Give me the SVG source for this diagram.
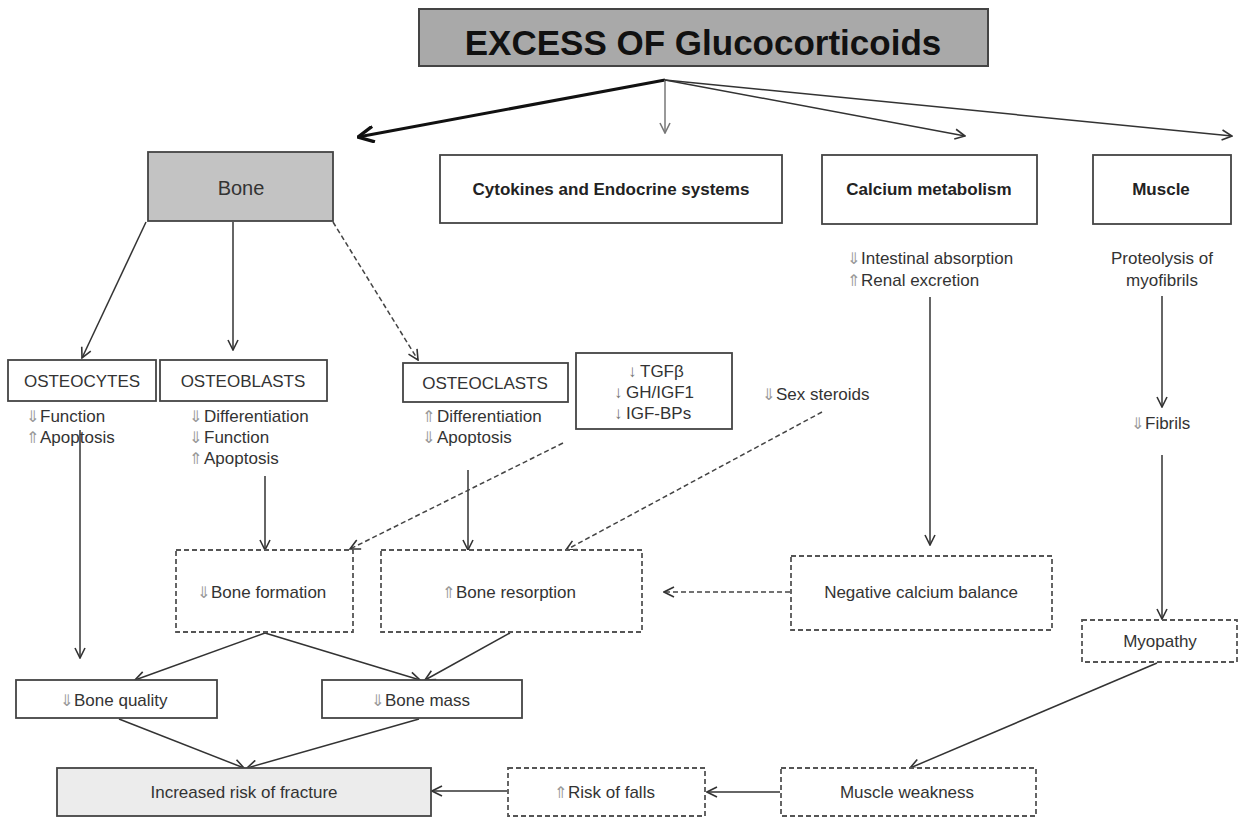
<svg xmlns="http://www.w3.org/2000/svg" width="1239" height="818" viewBox="0 0 1239 818">
<defs>
<marker id="arr" viewBox="0 0 12 12" refX="11" refY="6" markerWidth="12" markerHeight="12" markerUnits="userSpaceOnUse" orient="auto">
<path d="M1,1 L11,6 L1,11" fill="none" stroke="#333" stroke-width="1.6"/>
</marker>
<marker id="arrg" viewBox="0 0 12 12" refX="11" refY="6" markerWidth="12" markerHeight="12" markerUnits="userSpaceOnUse" orient="auto">
<path d="M1,1 L11,6 L1,11" fill="none" stroke="#777" stroke-width="1.6"/>
</marker>
<marker id="arrb" viewBox="0 0 16 16" refX="15" refY="8" markerWidth="18" markerHeight="18" markerUnits="userSpaceOnUse" orient="auto">
<path d="M1,1 L15,8 L1,15" fill="none" stroke="#111" stroke-width="3"/>
</marker>
</defs>
<style>
text{font-family:"Liberation Sans",Arial,sans-serif;fill:#333;font-size:17px}
.b{font-weight:bold;fill:#222}
.c{text-anchor:middle}
.s{fill:#999;font-family:"DejaVu Sans",sans-serif;font-size:16px}
.box{fill:#fff;stroke:#444;stroke-width:1.8}
.dbox{fill:#fff;stroke:#555;stroke-width:1.8;stroke-dasharray:5,3}
.ln{fill:none;stroke:#333;stroke-width:1.5;marker-end:url(#arr)}
.dl{fill:none;stroke:#444;stroke-width:1.5;stroke-dasharray:5,3;marker-end:url(#arr)}
</style>
<rect width="1239" height="818" fill="#fff"/>

<g id="connectors">
<line x1="665" y1="80" x2="358" y2="137" stroke="#111" stroke-width="3" marker-end="url(#arrb)"/>
<line x1="665" y1="80" x2="665" y2="133" stroke="#777" stroke-width="1.5" marker-end="url(#arrg)"/>
<line class="ln" x1="665" y1="80" x2="965" y2="136"/>
<line class="ln" x1="665" y1="80" x2="1232" y2="136"/>
<line class="ln" x1="146" y1="222" x2="82" y2="358"/>
<line class="ln" x1="233" y1="222" x2="233" y2="350"/>
<line class="dl" x1="333" y1="222" x2="418" y2="360"/>
<line class="ln" x1="80" y1="430" x2="80" y2="658"/>
<line class="ln" x1="265" y1="476" x2="265" y2="550"/>
<line class="ln" x1="468" y1="470" x2="468" y2="550"/>
<line class="dl" x1="563" y1="443" x2="350" y2="549"/>
<line class="dl" x1="822" y1="412" x2="566" y2="550"/>
<line class="ln" x1="930" y1="297" x2="930" y2="545"/>
<line class="dl" x1="790" y1="592" x2="664" y2="592"/>
<line class="ln" x1="1162" y1="296" x2="1162" y2="407"/>
<line class="ln" x1="1162" y1="455" x2="1162" y2="619"/>
<line class="ln" x1="265" y1="633" x2="135" y2="680"/>
<line class="ln" x1="265" y1="633" x2="420" y2="680"/>
<line class="ln" x1="510" y1="633" x2="425" y2="680"/>
<line class="ln" x1="119" y1="719" x2="244" y2="768"/>
<line class="ln" x1="419" y1="719" x2="247" y2="768"/>
<line class="ln" x1="507" y1="791" x2="432" y2="791"/>
<line class="ln" x1="780" y1="792" x2="707" y2="792"/>
<line class="ln" x1="1157" y1="663" x2="910" y2="768"/>
</g>

<g id="excess">
<rect x="419" y="9" width="569" height="57" fill="#a9a9a9" stroke="#444" stroke-width="2"/>
<text x="703" y="55" class="b c" style="font-size:35px;fill:#111">EXCESS OF Glucocorticoids</text>
</g>

<g id="bone">
<rect x="148" y="152" width="185" height="69" fill="#c3c3c3" stroke="#444" stroke-width="1.8"/>
<text x="241" y="195" class="c" style="font-size:20px">Bone</text>
</g>

<g id="cytokines">
<rect class="box" x="440" y="155" width="342" height="68"/>
<text x="611" y="195" class="b c">Cytokines and Endocrine systems</text>
</g>

<g id="calcium">
<rect class="box" x="822" y="155" width="215" height="69"/>
<text x="929" y="195" class="b c">Calcium metabolism</text>
</g>

<g id="muscle">
<rect class="box" x="1093" y="155" width="138" height="69"/>
<text x="1161" y="195" class="b c">Muscle</text>
</g>

<g id="osteocytes">
<rect class="box" x="8" y="360" width="148" height="41"/>
<text x="82" y="387" class="c">OSTEOCYTES</text>
<text x="26" y="422"><tspan class="s">⇓</tspan><tspan x="40">Function</tspan></text>
<text x="26" y="443"><tspan class="s">⇑</tspan><tspan x="40">Apoptosis</tspan></text>
</g>

<g id="osteoblasts">
<rect class="box" x="160" y="360" width="167" height="41"/>
<text x="243" y="387" class="c">OSTEOBLASTS</text>
<text x="189" y="422"><tspan class="s">⇓</tspan><tspan x="204">Differentiation</tspan></text>
<text x="189" y="443"><tspan class="s">⇓</tspan><tspan x="204">Function</tspan></text>
<text x="189" y="464"><tspan class="s">⇑</tspan><tspan x="204">Apoptosis</tspan></text>
</g>

<g id="osteoclasts">
<rect class="box" x="403" y="363" width="165" height="39"/>
<text x="485" y="389" class="c">OSTEOCLASTS</text>
<text x="422" y="422"><tspan class="s">⇑</tspan><tspan x="437">Differentiation</tspan></text>
<text x="422" y="443"><tspan class="s">⇓</tspan><tspan x="437">Apoptosis</tspan></text>
</g>

<g id="factors">
<rect class="box" x="576" y="353" width="156" height="76"/>
<text x="628" y="377"><tspan style="fill:#777">↓</tspan><tspan x="640">TGFβ</tspan></text>
<text x="614" y="398"><tspan style="fill:#777">↓</tspan><tspan x="626">GH/IGF1</tspan></text>
<text x="614" y="419"><tspan style="fill:#777">↓</tspan><tspan x="626">IGF-BPs</tspan></text>
</g>

<g id="sex-steroids">
<text x="762" y="400"><tspan class="s">⇓</tspan><tspan x="776">Sex steroids</tspan></text>
</g>

<g id="calcium-effects">
<text x="847" y="264"><tspan class="s">⇓</tspan><tspan x="861">Intestinal absorption</tspan></text>
<text x="847" y="286"><tspan class="s">⇑</tspan><tspan x="861">Renal excretion</tspan></text>
</g>

<g id="proteolysis">
<text x="1162" y="264" class="c">Proteolysis of</text>
<text x="1162" y="286" class="c">myofibrils</text>
</g>

<g id="fibrils">
<text x="1131" y="429"><tspan class="s">⇓</tspan><tspan x="1145">Fibrils</tspan></text>
</g>

<g id="bone-formation">
<rect class="dbox" x="176" y="550" width="177" height="82"/>
<text x="197" y="598"><tspan class="s">⇓</tspan><tspan x="211">Bone formation</tspan></text>
</g>

<g id="bone-resorption">
<rect class="dbox" x="381" y="550" width="261" height="82"/>
<text x="442" y="598"><tspan class="s">⇑</tspan><tspan x="456">Bone resorption</tspan></text>
</g>

<g id="negative-calcium">
<rect class="dbox" x="791" y="556" width="261" height="74"/>
<text x="921" y="598" class="c">Negative calcium balance</text>
</g>

<g id="myopathy">
<rect class="dbox" x="1082" y="620" width="155" height="42"/>
<text x="1160" y="647" class="c">Myopathy</text>
</g>

<g id="bone-quality">
<rect class="box" x="16" y="680" width="201" height="38"/>
<text x="60" y="706"><tspan class="s">⇓</tspan><tspan x="74">Bone quality</tspan></text>
</g>

<g id="bone-mass">
<rect class="box" x="322" y="680" width="200" height="38"/>
<text x="371" y="706"><tspan class="s">⇓</tspan><tspan x="385">Bone mass</tspan></text>
</g>

<g id="fracture">
<rect x="57" y="768" width="374" height="48" fill="#ececec" stroke="#444" stroke-width="1.8"/>
<text x="244" y="798" class="c">Increased risk of fracture</text>
</g>

<g id="risk-falls">
<rect class="dbox" x="508" y="768" width="197" height="48"/>
<text x="554" y="798"><tspan class="s">⇑</tspan><tspan x="568">Risk of falls</tspan></text>
</g>

<g id="muscle-weakness">
<rect class="dbox" x="781" y="768" width="255" height="48"/>
<text x="907" y="798" class="c">Muscle weakness</text>
</g>
</svg>
